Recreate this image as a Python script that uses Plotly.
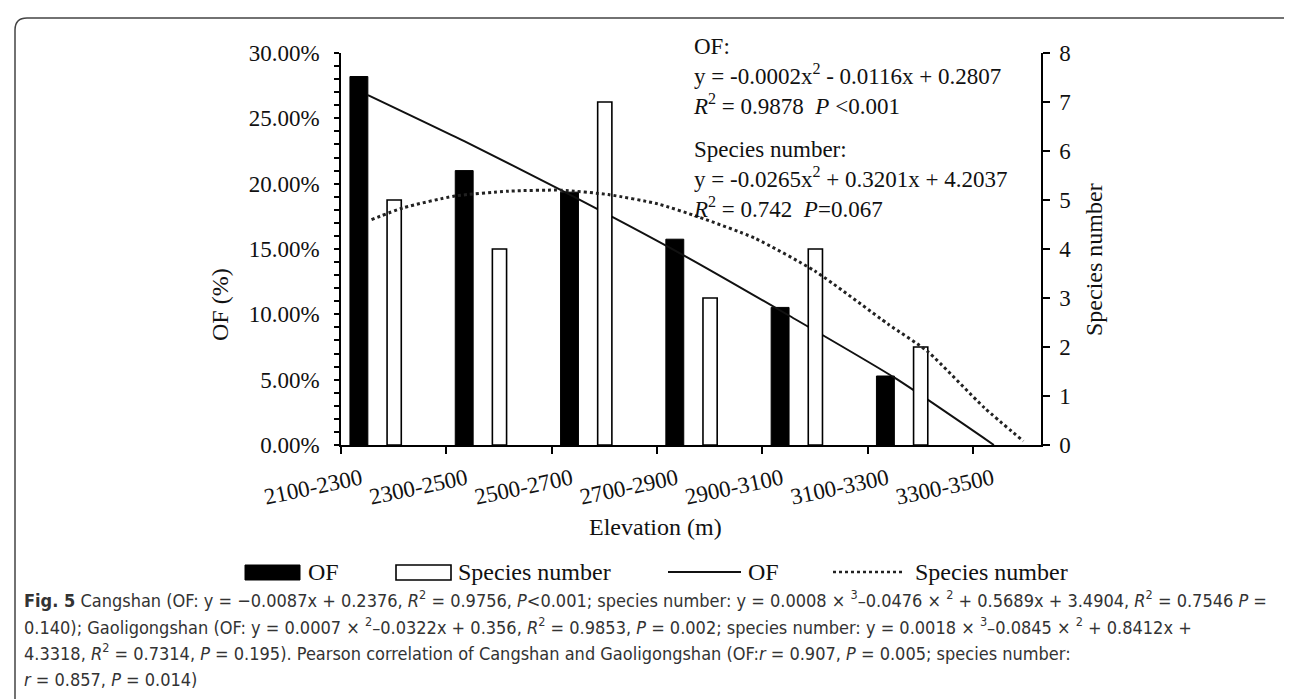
import plotly.graph_objects as go

# ---------------- data ----------------
elev_labels = ["2100-2300", "2300-2500", "2500-2700", "2700-2900",
               "2900-3100", "3100-3300", "3300-3500"]
bar_groups = [0, 1, 2, 3, 4, 5]                 # category index of each bar pair
of_values = [0.282, 0.210, 0.1935, 0.1575, 0.1053, 0.0528]   # OF (fraction)
species_values = [5, 4, 7, 3, 4, 2]             # species number

# fitted OF curve, x in category units
of_fit_x = [0.256, 1.175, 2.09, 3.25, 4.245, 5.26, 6.20]
of_fit_y = [0.2678, 0.2323, 0.1951, 0.1454, 0.0995, 0.0513, 0.0]
# fitted species curve
sp_fit_x = [0.29, 0.59, 1.08, 1.59, 2.09, 2.54, 3.01, 3.40, 3.93, 4.50, 5.20, 5.57, 6.11, 6.48]
sp_fit_y = [4.60, 4.84, 5.08, 5.18, 5.20, 5.11, 4.92, 4.65, 4.22, 3.55, 2.46, 1.91, 0.76, 0.08]

# ---------------- layout helpers ----------------
W, H = 1292, 699
L, R, T, B = 333, 1033, 45, 437        # plot area in pixels
XMAX = (R - L) / 105.3                 # category units visible


def px(x):
    return (x - L) / (R - L)


def py(y):
    return (B - y) / (B - T)


SERIF = "Liberation Serif, Times New Roman, serif"
SANS = "Liberation Sans Narrow, DejaVu Sans Condensed, Roboto Condensed, Liberation Sans, sans-serif"
INK = "#111111"

fig = go.Figure()

fig.add_trace(go.Bar(
    x=[g + 0.17 for g in bar_groups], y=of_values, width=0.17,
    marker=dict(color="black", line=dict(color="black", width=1)),
    name="OF", xaxis="x", yaxis="y", showlegend=False))

fig.add_trace(go.Bar(
    x=[g + 0.505 for g in bar_groups], y=species_values, width=0.135,
    marker=dict(color="white", line=dict(color="black", width=1.6)),
    name="Species number", xaxis="x", yaxis="y2", showlegend=False))

fig.add_trace(go.Scatter(
    x=of_fit_x, y=of_fit_y, mode="lines",
    line=dict(color="#111111", width=2, shape="spline", smoothing=0.6),
    name="OF", xaxis="x", yaxis="y", showlegend=False))

fig.add_trace(go.Scatter(
    x=sp_fit_x, y=sp_fit_y, mode="lines",
    line=dict(color="#222222", width=3, dash="dot", shape="spline", smoothing=0.6),
    name="Species number", xaxis="x", yaxis="y2", showlegend=False))

tickfont = dict(family=SERIF, size=23, color=INK)

fig.update_layout(
    width=W, height=H,
    margin=dict(l=L, r=W - R, t=T, b=H - B, pad=0),
    paper_bgcolor="white", plot_bgcolor="white",
    barmode="overlay",
    showlegend=False,
    xaxis=dict(range=[0, XMAX], tickmode="array",
               tickvals=[i + 0.19 for i in range(len(elev_labels))],
               ticktext=elev_labels, tickangle=-12, ticks="",
               tickfont=tickfont, ticklabelstandoff=10,
               minor=dict(tickmode="linear", tick0=0, dtick=1, ticks="outside",
                          ticklen=7, tickwidth=1.5, tickcolor="black", showgrid=False),
               showline=True, linecolor="black", linewidth=1.5,
               showgrid=False, zeroline=False, fixedrange=True),
    yaxis=dict(range=[0, 0.30], tickmode="linear", tick0=0, dtick=0.05,
               tickformat=".2%", ticks="outside", ticklen=5, tickwidth=1.5,
               tickcolor="black", showline=True, linecolor="black", linewidth=1.5,
               showgrid=False, zeroline=False, tickfont=tickfont, ticklabelstandoff=10,
               minor=dict(dtick=0.01, ticks="outside", ticklen=5, tickwidth=1.5,
                          tickcolor="black", showgrid=False)),
    yaxis2=dict(range=[0, 8], overlaying="y", side="right", anchor="x",
                tickmode="linear", tick0=0, dtick=1, ticks="outside", ticklen=7,
                tickwidth=1.5, tickcolor="black", showline=True, linecolor="black",
                linewidth=1.5, showgrid=False, zeroline=False, tickfont=tickfont,
                ticklabelstandoff=5),
)

ann = []


def text(x, y, s, size=23, family=SERIF, color=INK, xanchor="left", angle=0,
         yanchor="middle"):
    ann.append(dict(x=px(x), y=py(y), xref="paper", yref="paper", text=s,
                    showarrow=False, xanchor=xanchor, yanchor=yanchor, align="left",
                    textangle=angle, font=dict(family=family, size=size, color=color)))


# axis titles
text(212, 297, "OF (%)", size=24, xanchor="center", angle=-90)
text(1086, 252, "Species number", size=24, xanchor="center", angle=-90)
text(647, 519, "Elevation (m)", size=24, xanchor="center")

# equations (two text blocks)
text(683, 68, "OF:<br>y = -0.0002x<sup>2</sup> - 0.0116x + 0.2807<br>"
              "<i>R</i><sup>2</sup> = 0.9878&nbsp; <i>P</i> &lt;0.001", size=23)
text(683, 171, "Species number:<br>y = -0.0265x<sup>2</sup> + 0.3201x + 4.2037<br>"
               "<i>R</i><sup>2</sup> = 0.742&nbsp; <i>P</i>=0.067", size=23)

# legend (manual)
shapes = []
shapes.append(dict(type="rect", xref="paper", yref="paper", x0=px(237), x1=px(292),
                   y0=py(572), y1=py(557), fillcolor="black", line=dict(color="black", width=1)))
text(298, 564, "OF", size=24)
shapes.append(dict(type="rect", xref="paper", yref="paper", x0=px(388), x1=px(443),
                   y0=py(572), y1=py(557), fillcolor="white", line=dict(color="black", width=1.6)))
text(448, 564, "Species number", size=24)
shapes.append(dict(type="line", xref="paper", yref="paper", x0=px(660), x1=px(733),
                   y0=py(564), y1=py(564), line=dict(color="#111111", width=2)))
text(738, 564, "OF", size=24)
shapes.append(dict(type="line", xref="paper", yref="paper", x0=px(825), x1=px(895),
                   y0=py(564), y1=py(564), line=dict(color="#222222", width=2.5, dash="dot")))
text(905, 564, "Species number", size=24)

# caption
cap = [
    "<b>Fig. 5</b> Cangshan (OF: y = \u22120.0087x + 0.2376, <i>R</i><sup>2</sup> = 0.9756, <i>P</i>&lt;0.001; "
    "species number: y = 0.0008 \u00d7 <sup>3</sup>\u20130.0476 \u00d7 <sup>2</sup> + 0.5689x + 3.4904, "
    "<i>R</i><sup>2</sup> = 0.7546 <i>P</i> =",
    "0.140); Gaoligongshan (OF: y = 0.0007 \u00d7 <sup>2</sup>\u20130.0322x + 0.356, <i>R</i><sup>2</sup> = 0.9853, "
    "<i>P</i> = 0.002; species number: y = 0.0018 \u00d7 <sup>3</sup>\u20130.0845 \u00d7 <sup>2</sup> + 0.8412x +",
    "4.3318, <i>R</i><sup>2</sup> = 0.7314, <i>P</i> = 0.195). Pearson correlation of Cangshan and Gaoligongshan "
    "(OF:<i>r</i> = 0.907, <i>P</i> = 0.005; species number:",
    "<i>r</i> = 0.857, <i>P</i> = 0.014)",
]
for i, line in enumerate(cap):
    text(14, 591 + 26.7 * i, line, size=18, family=SANS, color="#333333")

# rounded frame
r = 12
x0, x1, y0, y1 = 7, 1287, 10, 710
path = (f"M {px(x0)} {py(y1)} L {px(x0)} {py(y0 + r)} "
        f"Q {px(x0)} {py(y0)} {px(x0 + r)} {py(y0)} "
        f"L {px(x1 - r)} {py(y0)} Q {px(x1)} {py(y0)} {px(x1)} {py(y0 + r)} "
        f"L {px(x1)} {py(y1)}")
shapes.append(dict(type="path", xref="paper", yref="paper", path=path,
                   line=dict(color="#444444", width=1.5)))

fig.update_layout(annotations=ann, shapes=shapes)
fig.write_html("out.html")
